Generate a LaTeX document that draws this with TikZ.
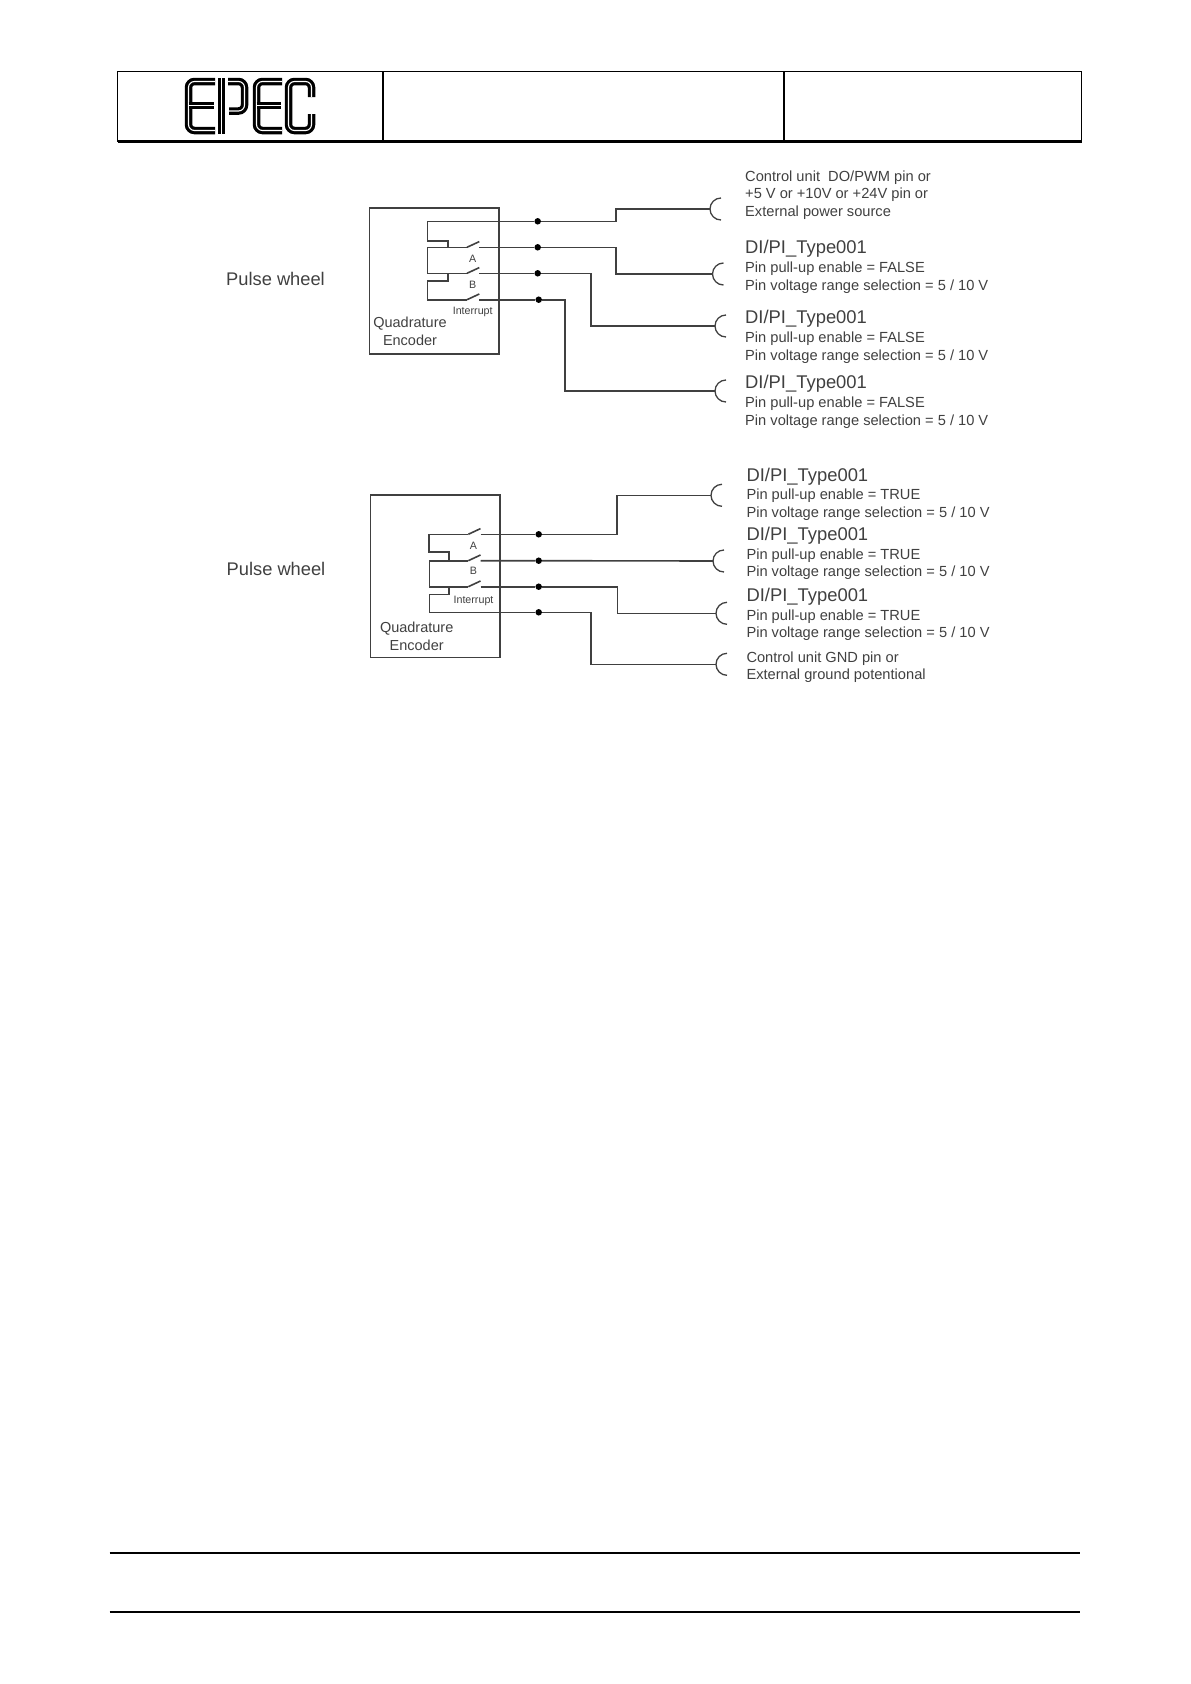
\documentclass[tikz,border=0pt]{standalone}
\usepackage{fontspec}
\setmainfont{Liberation Sans}
\usetikzlibrary{positioning}
\definecolor{wiregray}{gray}{0.25}
\definecolor{textgray}{gray}{0.25}
\tikzset{
  frameline/.style={line width=1.7pt,black},
  boxline/.style={line width=1.6pt,wiregray},
  wire/.style={line width=1.6pt,wiregray,line join=miter},
  junction/.style={circle,fill=black,inner sep=0pt,minimum size=6.5pt},
  logoletter/.style={line width=3.2pt,double=white,double distance=1.1pt,rounded corners=6pt,black},
  headtext/.style={anchor=base west,inner sep=0pt,text=textgray,font=\fontsize{18.4}{18.4}\selectfont},
  pintext/.style={anchor=base west,inner sep=0pt,text=textgray,font=\fontsize{14.65}{14.65}\selectfont},
  enctext/.style={inner sep=0pt,text=textgray,font=\fontsize{14.5}{14.5}\selectfont},
  swtext/.style={inner sep=0pt,text=textgray,font=\fontsize{10.7}{10.7}\selectfont},
  sidetext/.style={inner sep=0pt,text=textgray,font=\fontsize{18.3}{18.3}\selectfont}
}

\begin{document}
\begin{tikzpicture}[x=1pt,y=-1pt]
    \useasboundingbox (0,0) rectangle (1191,1684);

    % the page header and the footer rules
    \draw[frameline] (117.5,71.5) rectangle (1081.5,141.5);
    \draw[frameline,line width=2.2pt] (117.5,141.5) -- (1081.5,141.5);
    \draw[frameline] (383,71.5) -- (383,141.5);
    \draw[frameline] (784,71.5) -- (784,141.5);
    \draw[frameline,line width=1.4pt] (109.5,1553) -- (1079.5,1553);
    \draw[frameline,line width=1.4pt] (109.5,1612) -- (1079.5,1612);

    % the logo
    \draw[logoletter] (215,81.5) -- (188.5,81.5) -- (188.5,130.5) -- (215,130.5);
    \draw[logoletter,rounded corners=0pt] (188.5,105.5) -- (214,105.5);
    \draw[logoletter,rounded corners=0pt] (221.5,78) -- (221.5,134);
    \draw[logoletter] (228,81.5) -- (244.5,81.5) -- (244.5,111) -- (229,111);
    \draw[logoletter] (282,81.5) -- (256.5,81.5) -- (256.5,130.5) -- (282,130.5);
    \draw[logoletter,rounded corners=0pt] (256.5,105.5) -- (281,105.5);
    \draw[logoletter] (311.5,97) -- (311.5,81.5) -- (288.5,81.5) -- (288.5,130.5) -- (311.5,130.5) -- (311.5,114);

    % upper encoder box and its texts
    \draw[boxline] (369.3,208) rectangle (499,353.7);
    \node[sidetext] (wheelA) at (275.5,279) {Pulse wheel};
    \node[enctext] (quadA) at (410,323.7) {Quadrature};
    \node[enctext] (encA) at (410,340) {Encoder};
    \node[swtext] (labAa) at (472.7,259) {A};
    \node[swtext] (labAb) at (472.7,285) {B};
    \node[swtext] (labAi) at (472.7,312) {Interrupt};

    % upper switches, the junctions and the sockets (here only names for the wires)
    \coordinate (aTop) at (427.3,221.3);
    \coordinate (aL1) at (467,247.3);
    \coordinate (aR1) at (479.3,247.3);
    \coordinate (aL2) at (467,273.3);
    \coordinate (aR2) at (479.3,273.3);
    \coordinate (aL3) at (467,299.7);
    \coordinate (aR3) at (479.3,299.7);
    \node[junction] (aD0) at (537.7,221.3) {};
    \node[junction] (aD1) at (537.7,247.3) {};
    \node[junction] (aD2) at (537.7,273.3) {};
    \node[junction] (aD3) at (538.7,299.7) {};
    \coordinate (aS0) at (710,209);
    \coordinate (aS1) at (712.5,274);
    \coordinate (aS2) at (715,326);
    \coordinate (aS3) at (715,391);

    % upper wires
    \draw[wire] (aD0) -- (aTop) -- (427.3,240.7) -- (448,240.7) -- (448,247.3);
    \draw[wire] (aL1) -- (427.3,247.3) -- (427.3,273.3) -- (aL2);
    \draw[wire] (448,273.3) -- (448,280.7) -- (427.3,280.7) -- (427.3,299.7) -- (aL3);
    \draw[wire] (aD0) -- ++(78.3,0) |- (aS0);
    \draw[wire] (aR1) -- (aD1) -- ++(78.3,0) |- (aS1);
    \draw[wire] (aR2) -- (aD2) -- ++(53,0) |- (aS2);
    \draw[wire] (aR3) -- (aD3) -- ++(26,0) |- (aS3);
    \draw[wire] (aL1) -- ++(12.3,-5.7);
    \draw[wire] (aL2) -- ++(12.3,-5.7);
    \draw[wire] (aL3) -- ++(12.3,-5.7);

    % lower encoder box and its texts
    \draw[boxline] (370.3,495) rectangle (499.7,657.3);
    \node[sidetext] (wheelB) at (276,569) {Pulse wheel};
    \node[enctext] (quadB) at (416.7,629) {Quadrature};
    \node[enctext] (encB) at (416.7,645.7) {Encoder};
    \node[swtext] (labBa) at (473.5,546) {A};
    \node[swtext] (labBb) at (473.5,571.3) {B};
    \node[swtext] (labBi) at (473.5,601) {Interrupt};

    % lower switches, the junctions and the sockets
    \coordinate (bL1) at (468.3,534.3);
    \coordinate (bR1) at (480.5,534.3);
    \coordinate (bL2) at (468.3,560.7);
    \coordinate (bR2) at (480.5,560.7);
    \coordinate (bL3) at (468.3,586.7);
    \coordinate (bR3) at (480.5,586.7);
    \node[junction] (bD1) at (538.7,534.3) {};
    \node[junction] (bD2) at (538.7,560.7) {};
    \node[junction] (bD3) at (538.7,586.7) {};
    \node[junction] (bD4) at (538.7,612.3) {};
    \coordinate (bS1) at (711,495.3);
    \coordinate (bS2) at (713,561);
    \coordinate (bS3) at (716,613.3);
    \coordinate (bS4) at (716,664.3);

    % lower wires
    \draw[wire] (bL1) -- (429,534.3) -- (429,551.7) -- (448.7,551.7) -- (448.7,560.7);
    \draw[wire] (bL2) -- (429.3,560.7) -- (429.3,586.7) -- (bL3);
    \draw[wire] (448.7,586.7) -- (448.7,594.3) -- (429.3,594.3) -- (429.3,612.3) -- (bD4);
    \draw[wire] (bR1) -- (bD1) -- ++(78,0) |- (bS1);
    \draw[wire] (bR2) -- (bD2) -- (bS2);
    \draw[wire] (bR3) -- (bD3) -- ++(78.6,0) |- (bS3);
    \draw[wire] (bD4) -- ++(52,0) |- (bS4);
    \draw[wire] (bL1) -- ++(12.2,-5.7);
    \draw[wire] (bL2) -- ++(12.2,-5.7);
    \draw[wire] (bL3) -- ++(12.2,-5.7);

    % draw the socket cups
    \foreach \sock in {aS0,aS1,aS2,aS3,bS1,bS2,bS3,bS4}
        \draw[wire,line width=1.3pt] (\sock) ++(11,11) arc[start angle=90,end angle=270,radius=11];

    % the texts at the sockets, upper group
    \node[pintext] (a0a) at (745,181) {Control unit\ \ DO/PWM pin or};
    \node[pintext] (a0b) at (745,198.7) {+5 V or +10V or +24V pin or};
    \node[pintext] (a0c) at (745,216.7) {External power source};
    \node[headtext] (a1a) at (745,253.8) {DI/PI\_Type001};
    \node[pintext] (a1b) at (745,272) {Pin pull-up enable = FALSE};
    \node[pintext] (a1c) at (745,290) {Pin voltage range selection = 5 / 10 V};
    \node[headtext] (a2a) at (745,323.8) {DI/PI\_Type001};
    \node[pintext] (a2b) at (745,342.7) {Pin pull-up enable = FALSE};
    \node[pintext] (a2c) at (745,360) {Pin voltage range selection = 5 / 10 V};
    \node[headtext] (a3a) at (745,388.2) {DI/PI\_Type001};
    \node[pintext] (a3b) at (745,407.7) {Pin pull-up enable = FALSE};
    \node[pintext] (a3c) at (745,425.3) {Pin voltage range selection = 5 / 10 V};

    % the texts at the sockets, lower group
    \node[headtext] (b1a) at (746.3,481.5) {DI/PI\_Type001};
    \node[pintext] (b1b) at (746.3,499.7) {Pin pull-up enable = TRUE};
    \node[pintext] (b1c) at (746.3,517.3) {Pin voltage range selection = 5 / 10 V};
    \node[headtext] (b2a) at (746.3,540.5) {DI/PI\_Type001};
    \node[pintext] (b2b) at (746.3,559.3) {Pin pull-up enable = TRUE};
    \node[pintext] (b2c) at (746.3,576.7) {Pin voltage range selection = 5 / 10 V};
    \node[headtext] (b3a) at (746.3,601.8) {DI/PI\_Type001};
    \node[pintext] (b3b) at (746.3,620) {Pin pull-up enable = TRUE};
    \node[pintext] (b3c) at (746.3,637.3) {Pin voltage range selection = 5 / 10 V};
    \node[pintext] (b4a) at (746.3,662) {Control unit GND pin or};
    \node[pintext] (b4b) at (746.3,679.3) {External ground potentional};
\end{tikzpicture}
\end{document}
